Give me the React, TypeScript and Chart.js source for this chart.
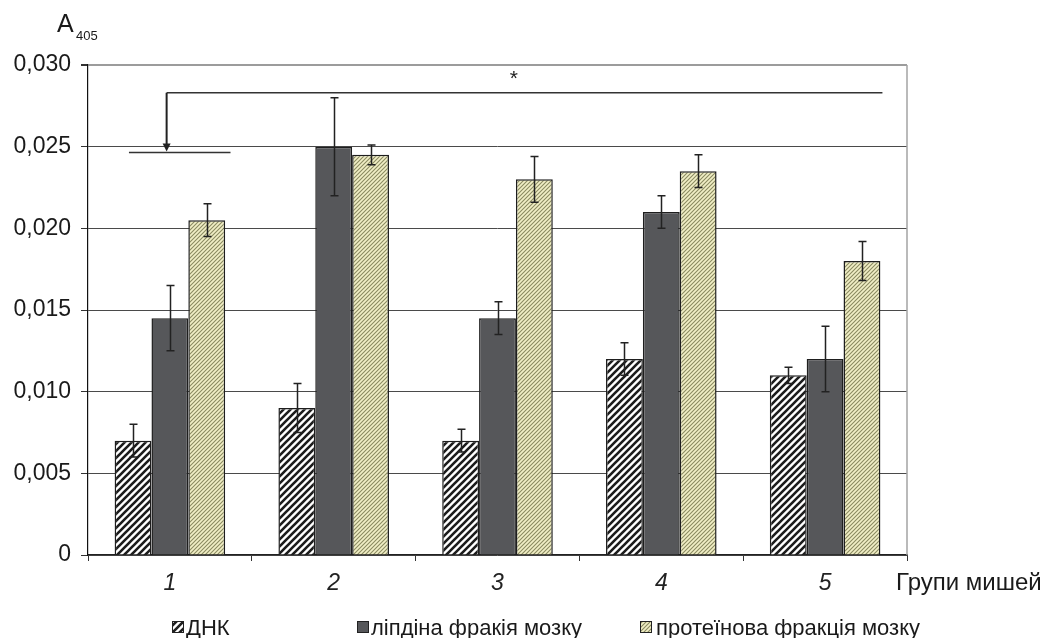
import React, { useEffect, useRef } from "react";
import { Chart, registerables } from "chart.js";

Chart.register(...registerables);

const categories = ["1", "2", "3", "4", "5"];
const seriesNames = ["ДНК", "ліпдіна фракія мозку", "протеїнова фракція мозку"];
const dnaValues = [0.007, 0.009, 0.007, 0.012, 0.011];
const dnaErrors = [0.001, 0.0015, 0.0007, 0.001, 0.0005];
const lipidValues = [0.0145, 0.025, 0.0145, 0.021, 0.012];
const lipidErrors = [0.002, 0.003, 0.001, 0.001, 0.002];
const proteinValues = [0.0205, 0.0245, 0.023, 0.0235, 0.018];
const proteinErrors = [0.001, 0.0006, 0.0014, 0.001, 0.0012];
const yMin = 0;
const yMax = 0.03;
const yStep = 0.005;
const yAxisTitle = "A";
const yAxisSub = "405";
const xAxisTitle = "Групи мишей";
const significanceMark = "*";

const FONT = "'Liberation Sans', Arial, sans-serif";

function makeDnaPattern(): CanvasPattern | string {
  const s = 7;
  const c = document.createElement("canvas");
  c.width = s;
  c.height = s;
  const g = c.getContext("2d");
  if (!g) return "#fff";
  g.fillStyle = "#ffffff";
  g.fillRect(0, 0, s, s);
  g.strokeStyle = "#1c1c1c";
  g.lineWidth = 2.6;
  g.beginPath();
  for (let k = -1; k <= 1; k++) {
    g.moveTo(k * s - 1, s + 1);
    g.lineTo(k * s + s + 1, -1);
  }
  g.stroke();
  return g.createPattern(c, "repeat") || "#fff";
}

function makeProteinPattern(): CanvasPattern | string {
  const s = 4;
  const c = document.createElement("canvas");
  c.width = s;
  c.height = s;
  const g = c.getContext("2d");
  if (!g) return "#eeecc4";
  g.fillStyle = "#f1efc6";
  g.fillRect(0, 0, s, s);
  g.strokeStyle = "#8a8960";
  g.lineWidth = 1.1;
  g.beginPath();
  for (let k = -1; k <= 1; k++) {
    g.moveTo(k * s - 1, s + 1);
    g.lineTo(k * s + s + 1, -1);
  }
  g.stroke();
  return g.createPattern(c, "repeat") || "#eeecc4";
}

export default function App() {
  const ref = useRef<HTMLCanvasElement>(null);

  useEffect(() => {
    if (!ref.current) return;
    const dnaFill = makeDnaPattern();
    const proteinFill = makeProteinPattern();
    const lipidFill = "#56575a";
    const errors = [dnaErrors, lipidErrors, proteinErrors];
    const fills = [dnaFill, lipidFill, proteinFill];

    const errorBarPlugin = {
      id: "errorBars",
      afterDatasetsDraw(chart: any) {
        const ctx = chart.ctx;
        const y = chart.scales.y;
        ctx.save();
        ctx.strokeStyle = "#222";
        ctx.lineWidth = 1.5;
        chart.data.datasets.forEach((ds: any, di: number) => {
          const meta = chart.getDatasetMeta(di);
          meta.data.forEach((el: any, i: number) => {
            const v = ds.data[i];
            const e = errors[di][i];
            const x = Math.round(el.x) + 0.5;
            const yh = y.getPixelForValue(v + e);
            const yl = y.getPixelForValue(v - e);
            ctx.beginPath();
            ctx.moveTo(x, yh);
            ctx.lineTo(x, yl);
            ctx.moveTo(x - 4, yh);
            ctx.lineTo(x + 4, yh);
            ctx.moveTo(x - 4, yl);
            ctx.lineTo(x + 4, yl);
            ctx.stroke();
          });
        });
        ctx.restore();
      },
    };

    const decorPlugin = {
      id: "decor",
      afterDraw(chart: any) {
        const ctx = chart.ctx;
        const xs = chart.scales.x;
        const ys = chart.scales.y;
        const area = chart.chartArea;
        ctx.save();
        // right border
        ctx.strokeStyle = "#a3a3a3";
        ctx.lineWidth = 1.5;
        ctx.beginPath();
        ctx.moveTo(area.right, area.top);
        ctx.lineTo(area.right, area.bottom);
        ctx.stroke();

        // significance bracket
        const bx0 = xs.getPixelForValue(-0.02);
        const bx1 = xs.getPixelForValue(4.35);
        const by = ys.getPixelForValue(0.0283);
        const tipY = ys.getPixelForValue(0.0247);
        ctx.strokeStyle = "#333";
        ctx.lineWidth = 1.5;
        ctx.beginPath();
        ctx.moveTo(bx0, by);
        ctx.lineTo(bx1, by);
        ctx.stroke();
        ctx.lineWidth = 2;
        ctx.strokeStyle = "#222";
        ctx.beginPath();
        ctx.moveTo(bx0, by);
        ctx.lineTo(bx0, tipY - 7);
        ctx.stroke();
        ctx.fillStyle = "#222";
        ctx.beginPath();
        ctx.moveTo(bx0 - 4, tipY - 8);
        ctx.lineTo(bx0 + 4, tipY - 8);
        ctx.lineTo(bx0, tipY);
        ctx.closePath();
        ctx.fill();
        ctx.lineWidth = 1.5;
        ctx.strokeStyle = "#333";
        ctx.beginPath();
        ctx.moveTo(xs.getPixelForValue(-0.25), tipY + 1);
        ctx.lineTo(xs.getPixelForValue(0.37), tipY + 1);
        ctx.stroke();
        ctx.fillStyle = "#222";
        ctx.font = `21px ${FONT}`;
        ctx.textAlign = "center";
        ctx.textBaseline = "middle";
        ctx.fillText(significanceMark, xs.getPixelForValue(2.1), ys.getPixelForValue(0.0291));

        // y axis title A405
        ctx.textAlign = "left";
        ctx.textBaseline = "alphabetic";
        ctx.fillStyle = "#1a1a1a";
        ctx.font = `25px ${FONT}`;
        ctx.fillText(yAxisTitle, 57, 32);
        ctx.font = `13px ${FONT}`;
        ctx.fillText(yAxisSub, 76, 40);

        // x axis title
        ctx.font = `24px ${FONT}`;
        ctx.fillText(xAxisTitle, 896, 590);

        // legend
        const swX = [172, 357, 640];
        const txX = [186, 371, 656];
        const swY = 621;
        const sw = 12;
        ctx.font = `22px ${FONT}`;
        for (let i = 0; i < 3; i++) {
          ctx.fillStyle = fills[i] as any;
          ctx.fillRect(swX[i], swY, sw, sw);
          ctx.strokeStyle = "#222";
          ctx.lineWidth = 1;
          ctx.strokeRect(swX[i] + 0.5, swY + 0.5, sw - 1, sw - 1);
          if (i === 0) {
            ctx.beginPath();
            ctx.moveTo(swX[i] + 1, swY + sw - 1);
            ctx.lineTo(swX[i] + sw - 1, swY + 1);
            ctx.stroke();
          }
          ctx.fillStyle = "#1a1a1a";
          ctx.fillText(seriesNames[i], txX[i], 635);
        }
        ctx.restore();
      },
    };

    const chart = new Chart(ref.current, {
      type: "bar",
      data: {
        labels: categories,
        datasets: [
          { label: seriesNames[0], data: dnaValues, backgroundColor: dnaFill as any, borderColor: "#1e1e1e", borderWidth: 1.5 },
          { label: seriesNames[1], data: lipidValues, backgroundColor: lipidFill, borderColor: "#1e1e1e", borderWidth: 1.5 },
          { label: seriesNames[2], data: proteinValues, backgroundColor: proteinFill as any, borderColor: "#1e1e1e", borderWidth: 1.5 },
        ],
      },
      options: {
        responsive: false,
        animation: false,
        layout: { padding: { top: 65, right: 136, bottom: 0, left: 0 } },
        plugins: { legend: { display: false }, tooltip: { enabled: false } },
        datasets: { bar: { categoryPercentage: 0.675, barPercentage: 1 } },
        scales: {
          x: {
            afterFit: (s: any) => { s.height = 83; },
            grid: { offset: true, drawOnChartArea: false, drawTicks: true, tickLength: 6, tickColor: "#333" },
            border: { color: "#222", width: 1.2 },
            ticks: { color: "#222", padding: 9, font: { family: FONT, size: 23, style: "italic" } },
          },
          y: {
            min: yMin,
            max: yMax,
            afterFit: (s: any) => { s.width = 88; },
            ticks: {
              stepSize: yStep,
              color: "#1a1a1a",
              padding: 10,
              font: { family: FONT, size: 23 },
              callback: (v: any) => (Number(v) === 0 ? "0" : Number(v).toFixed(3).replace(".", ",")),
            },
            grid: {
              color: (c: any) => (c.tick && Math.abs(c.tick.value - yMax) < 1e-9 ? "#9c9c9c" : "#4a4a4a"),
              lineWidth: (c: any) => (c.tick && Math.abs(c.tick.value - yMax) < 1e-9 ? 2 : 1),
              tickColor: "#333",
              tickLength: 7,
            },
            border: { color: "#111", width: 1.2 },
          },
        },
      },
      plugins: [errorBarPlugin, decorPlugin],
    });
    return () => chart.destroy();
  }, []);

  return (
    <div style={{ position: "fixed", left: 0, top: 0, width: 1043, height: 638, background: "#fff" }}>
      <canvas ref={ref} width={1043} height={638} style={{ display: "block" }} />
    </div>
  );
}
